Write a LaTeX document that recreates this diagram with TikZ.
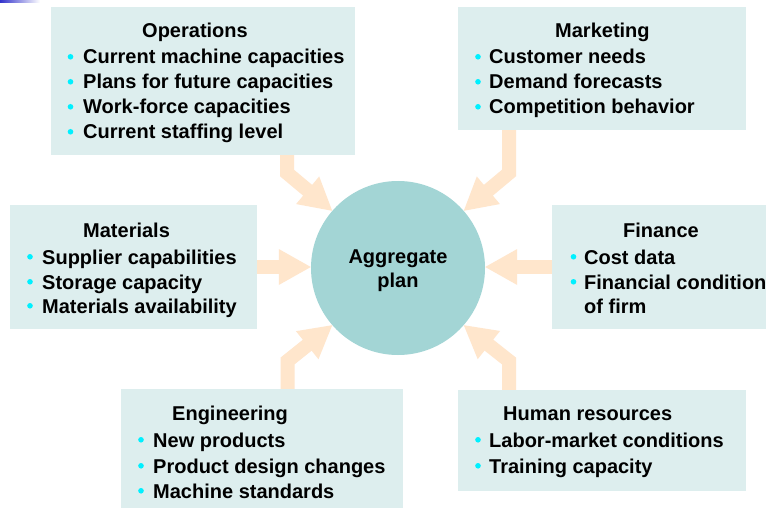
\documentclass[tikz,border=0pt]{standalone}
\usepackage{fontspec}
\setmainfont{Liberation Sans}
\usetikzlibrary{calc}

\definecolor{boxfill}{HTML}{DDEEEE}
\definecolor{planfill}{HTML}{A3D5D5}
\definecolor{flowfill}{HTML}{FFE6CC}
\definecolor{bulletcyan}{HTML}{00F0FF}
\definecolor{cornerblue}{HTML}{3333CC}

\tikzset{
  infobox/.style={fill=boxfill, inner sep=0pt, anchor=center},
  txt/.style={anchor=base west, inner sep=0pt, font=\bfseries\fontsize{20}{25}\selectfont},
  ctxt/.style={txt, anchor=base},
  shaft/.style={draw=flowfill, line width=14pt, line join=miter},
  head/.style={fill=flowfill},
  dot/.style={fill=bulletcyan}
}

% block arrow: start, bend point, tip
\newcommand\flowarrow[3]{%
  \draw[shaft] (#1) -- (#2) -- ($(#3)!31pt!(#2)$);
  \fill[head] (#3) -- ($(#3)!32pt!(#2)!18pt!90:(#2)$)
              -- ($(#3)!32pt!(#2)!18pt!-90:(#2)$) -- cycle;
}
% cyan bullet left of a text line (x of bullet, baseline)
\newcommand\bul[2]{\fill[dot] (#1,#2-7.2) circle (2.8pt);}

\begin{document}
\begin{tikzpicture}[x=1pt, y=-1pt]
  \useasboundingbox (0,0) rectangle (766,508);
  \fill[white] (0,0) rectangle (766,508);
  \shade[left color=cornerblue, right color=white] (0,0) rectangle (40,3);

  % boxes
  \node[infobox, minimum width=304pt, minimum height=148pt] (ops) at (203,81) {};
  \node[infobox, minimum width=288pt, minimum height=123pt] (mkt) at (602,68.5) {};
  \node[infobox, minimum width=247pt, minimum height=124pt] (mat) at (133.5,267) {};
  \node[infobox, minimum width=214pt, minimum height=124pt] (fin) at (659,267) {};
  \node[infobox, minimum width=282pt, minimum height=119pt] (eng) at (262,448.5) {};
  \node[infobox, minimum width=288pt, minimum height=101pt] (hr) at (602,440.5) {};

  % central plan
  \node[circle, fill=planfill, minimum size=174pt, inner sep=0pt] (plan) at (398,268) {};
  \node[ctxt] (plan1) at (398,263) {Aggregate};
  \node[ctxt] (plan2) at (398,287) {plan};

  % arrows into the plan
  \coordinate (opsbend) at (287,173);
  \coordinate (mktbend) at (509,173);
  \coordinate (engbend) at (287.5,361);
  \coordinate (hrbend) at (509,361);
  \coordinate (mattip) at (mat.east -| plan.west);
  \coordinate (matmid) at ($(mat.east)!0.5!(mattip)$);
  \coordinate (fintip) at (fin.west -| plan.east);
  \coordinate (finmid) at ($(fin.west)!0.5!(fintip)$);
  \flowarrow{ops.south -| opsbend}{opsbend}{plan.139}
  \flowarrow{mkt.south -| mktbend}{mktbend}{plan.41}
  \flowarrow{eng.north -| engbend}{engbend}{plan.221}
  \flowarrow{hr.north -| hrbend}{hrbend}{plan.319}
  \flowarrow{mat.east}{matmid}{mattip}
  \flowarrow{fin.west}{finmid}{fintip}

  % Operations
  \node[txt] (o0) at (142,38) {Operations};
  \node[txt] (o1) at (83,64) {Current machine capacities};
  \node[txt] (o2) at (83,89) {Plans for future capacities};
  \node[txt] (o3) at (83,114) {Work-force capacities};
  \node[txt] (o4) at (83,139) {Current staffing level};
  \bul{70.5}{64}\bul{70.5}{89}\bul{70.5}{114}\bul{70.5}{139}

  % Marketing
  \node[txt] (m0) at (555,38) {Marketing};
  \node[txt] (m1) at (489,64) {Customer needs};
  \node[txt] (m2) at (489,89) {Demand forecasts};
  \node[txt] (m3) at (489,114) {Competition behavior};
  \bul{478}{64}\bul{478}{89}\bul{478}{114}

  % Materials
  \node[txt] (a0) at (83,237) {Materials};
  \node[txt] (a1) at (42,264) {Supplier capabilities};
  \node[txt] (a2) at (42,289) {Storage capacity};
  \node[txt] (a3) at (42,313) {Materials availability};
  \bul{30}{264}\bul{30}{289}\bul{30}{313}

  % Finance
  \node[txt] (f0) at (623,237) {Finance};
  \node[txt] (f1) at (584,264) {Cost data};
  \node[txt] (f2) at (584,289) {Financial condition};
  \node[txt] (f3) at (584,313) {of firm};
  \bul{573.5}{264}\bul{573.5}{289}

  % Engineering
  \node[txt] (e0) at (172,420) {Engineering};
  \node[txt] (e1) at (153,447) {New products};
  \node[txt] (e2) at (153,473) {Product design changes};
  \node[txt] (e3) at (153,498) {Machine standards};
  \bul{141}{447}\bul{141}{473}\bul{141}{498}

  % Human resources
  \node[txt] (h0) at (503,420) {Human resources};
  \node[txt] (h1) at (489,447) {Labor-market conditions};
  \node[txt] (h2) at (489,473) {Training capacity};
  \bul{478}{447}\bul{478}{473}
\end{tikzpicture}
\end{document}
